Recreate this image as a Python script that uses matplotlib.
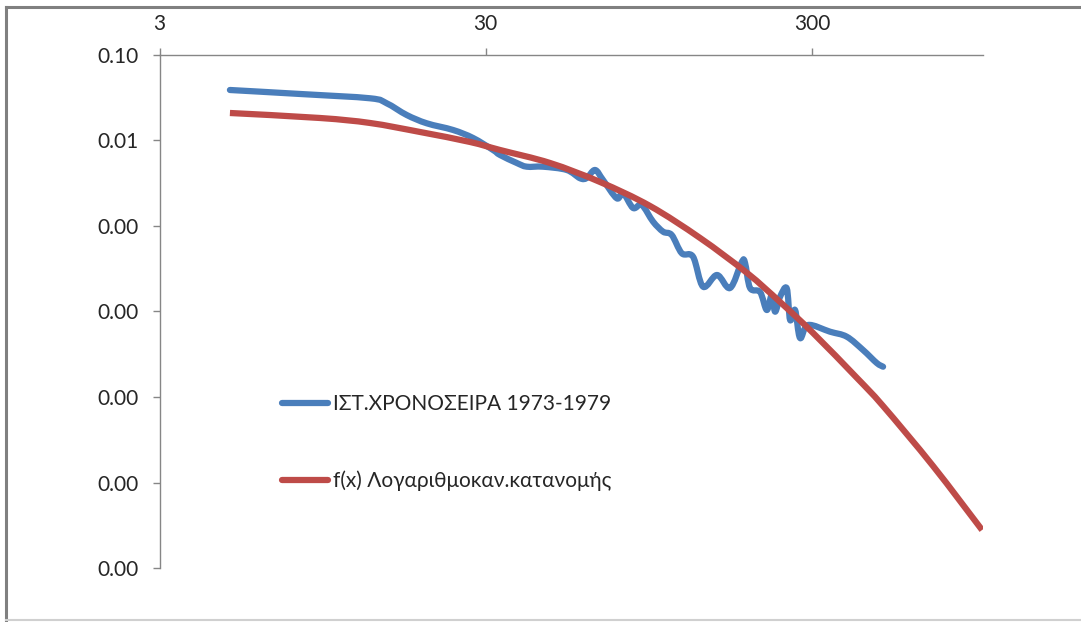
import matplotlib
matplotlib.use("Agg")
import numpy as np
import matplotlib.pyplot as plt
from matplotlib.lines import Line2D
from matplotlib.path import Path
from matplotlib.patches import PathPatch
from matplotlib.ticker import FixedLocator, FuncFormatter, NullLocator

plt.rcParams['font.family'] = ['Lato', 'DejaVu Sans']

# Historical series (return period vs. probability)
hist_x = [4.93, 8.09, 13.26, 14.91, 17.17, 19.78, 23.82, 27.43, 31.59, 33.18,
          37.35, 40.07, 44.95, 53.14, 58.39, 61.20, 64.89, 68.65, 75.63, 79.07,
          84.86, 90.24, 97.75, 104.9, 111.5, 119.7, 129.6, 139.1, 153.5, 168.3,
          182.8, 187.1, 193.8, 208.0, 218.1, 225.9, 231.3, 239.6, 251.1, 257.1,
          266.3, 275.8, 291.9, 340.8, 383.6, 430.3, 474.0, 495.6]
hist_y = [0.03896, 0.03499, 0.03116, 0.02723, 0.01987, 0.01589, 0.01327, 0.01070,
          0.007743, 0.006767, 0.005455, 0.004938, 0.004938, 0.004519, 0.003613,
          0.003642, 0.004519, 0.003451, 0.002109, 0.002432, 0.001624, 0.001760,
          0.001123, 0.0008577, 0.0007846, 0.0004794, 0.0004374, 0.0001950,
          0.0002673, 0.0001883, 0.0003793, 0.0003693, 0.0001883, 0.0001691,
          0.0001041, 0.0001560, 0.00009947, 0.0001490, 0.0001867, 0.00007958,
          0.0001041, 0.00004898, 0.00006953, 0.00005804, 0.00005072, 0.00003545,
          0.00002498, 0.00002261]

# Fitted log-normal distribution
fit_x = [4.93, 9.31, 13.26, 18.87, 26.85, 33.18, 47.23, 67.23, 95.68, 136.2,
         189.8, 239.6, 302.4, 412.4, 495.6, 705.2, 996.9]
fit_y = [0.02097, 0.01833, 0.01602, 0.01257, 0.009605, 0.007743, 0.005455,
         0.003270, 0.001713, 0.0007238, 0.0002821, 0.0001291, 0.00005604,
         0.00001668, 0.000007846, 0.000001560, 2.782e-7]

x_ticks = [3, 30, 300]
y_ticks = [1e-7, 1e-6, 1e-5, 1e-4, 1e-3, 1e-2, 1e-1]

label_hist = "ΙΣΤ.ΧΡΟΝΟΣΕΙΡΑ 1973-1979"
label_fit = "f(x) Λογαριθμοκαν.κατανομής"

blue = "#4A7EBB"
red = "#BE4B48"
axis_grey = "#868686"
text_col = "#262626"


# Excel style "smoothed line": Catmull-Rom bezier through the points (log-log space)
def smooth_path(xs, ys):
    p = np.column_stack([np.log10(xs), np.log10(ys)])
    verts = [p[0]]
    codes = [Path.MOVETO]
    n = len(p)
    for i in range(n - 1):
        p0 = p[i - 1] if i > 0 else p[i]
        p3 = p[i + 2] if i + 2 < n else p[i + 1]
        c1 = p[i] + (p[i + 1] - p0) / 6.0
        c2 = p[i + 1] - (p3 - p[i]) / 6.0
        verts += [c1, c2, p[i + 1]]
        codes += [Path.CURVE4] * 3
    return Path(10.0 ** np.array(verts), codes)


fig = plt.figure(figsize=(10.81, 6.22), dpi=100)
ax = fig.add_axes([0.1476, 0.0868, 0.7613, 0.8248])

ax.set_xscale("log")
ax.set_yscale("log")
ax.set_xlim(3, 1000)
ax.set_ylim(1e-7, 0.1)

ax.add_patch(PathPatch(smooth_path(hist_x, hist_y), facecolor="none", edgecolor=blue,
                       lw=4.5, joinstyle="round", capstyle="round", zorder=3))
ax.add_patch(PathPatch(smooth_path(fit_x, fit_y), facecolor="none", edgecolor=red,
                       lw=4.5, joinstyle="round", capstyle="butt", zorder=3))

ax.xaxis.set_major_locator(FixedLocator(x_ticks))
ax.xaxis.set_minor_locator(NullLocator())
ax.xaxis.set_major_formatter(FuncFormatter(lambda v, p: f"{v:g}"))
ax.yaxis.set_major_locator(FixedLocator(y_ticks))
ax.yaxis.set_minor_locator(NullLocator())
ax.yaxis.set_major_formatter(FuncFormatter(lambda v, p: f"{v:.2f}"))

ax.xaxis.tick_top()
ax.spines["bottom"].set_visible(False)
ax.spines["right"].set_visible(False)
for s in ("top", "left"):
    ax.spines[s].set_color(axis_grey)
    ax.spines[s].set_linewidth(1.0)
ax.tick_params(axis="both", which="major", length=5, width=1.0,
               color=axis_grey, labelsize=15, labelcolor=text_col)
ax.tick_params(axis="x", pad=10)
ax.tick_params(axis="y", pad=10)

handles = [Line2D([], [], color=blue, lw=4.5, solid_capstyle="round"),
           Line2D([], [], color=red, lw=4.5, solid_capstyle="round")]
leg = ax.legend(handles, [label_hist, label_fit], loc="upper left",
                bbox_to_anchor=(0.1485, 0.339), frameon=False, fontsize=15,
                handlelength=2.24, handletextpad=0.23, labelspacing=2.72,
                borderaxespad=0, borderpad=0)
for t in leg.get_texts():
    t.set_color(text_col)

# outer chart border (screenshot frame)
fig.add_artist(Line2D([0.0055, 0.0055], [0.0, 0.989], color="#808080", lw=2.2))
fig.add_artist(Line2D([0.0055, 1.0], [0.989, 0.989], color="#808080", lw=2.2))
fig.add_artist(Line2D([0.0055, 1.0], [0.003, 0.003], color="#d0d0d0", lw=1.5))

fig.savefig("out.png", dpi=100, facecolor="white")
